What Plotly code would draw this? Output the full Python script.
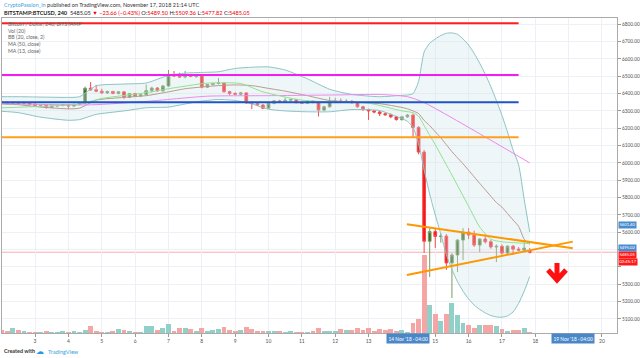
import plotly.graph_objects as go
import pandas as pd

# ---------------- data ----------------
START = pd.Timestamp('2018-11-03 00:00')      # bar index 0
BAR = pd.Timedelta(hours=4)
FIRST_BAR, LAST_BAR = -6, 89

OPEN = [6352, 6348, 6342, 6350, 6341, 6347, 6338, 6330, 6332, 6320, 6328, 6331, 6337, 6328, 6338, 6345,
        6431, 6422, 6414, 6404, 6412, 6401, 6410, 6379, 6400, 6386, 6393, 6418, 6432, 6416, 6444, 6507,
        6501, 6496, 6505, 6499, 6502, 6437, 6452, 6458, 6461, 6411, 6401, 6396, 6404, 6348, 6343, 6334,
        6316, 6344, 6358, 6350, 6362, 6366, 6347, 6344, 6356, 6350, 6305, 6324, 6353, 6357, 6350, 6356,
        6347, 6324, 6308, 6300, 6294, 6284, 6278, 6266, 6250, 6266, 6276, 6205, 6063, 5548, 5604, 5576,
        5578, 5423, 5469, 5555, 5601, 5584, 5526, 5561, 5545, 5515, 5519, 5480, 5520, 5503, 5497, 5489.50]
HIGH = [6358, 6356, 6355, 6354, 6352, 6350, 6345, 6336, 6336, 6332, 6334, 6340, 6340, 6342, 6350, 6440,
        6467, 6450, 6428, 6418, 6416, 6415, 6414, 6404, 6405, 6396, 6452, 6440, 6438, 6450, 6536, 6530,
        6520, 6530, 6512, 6508, 6506, 6456, 6462, 6490, 6466, 6416, 6408, 6410, 6408, 6355, 6347, 6340,
        6348, 6362, 6364, 6376, 6370, 6368, 6355, 6360, 6360, 6354, 6330, 6382, 6376, 6372, 6368, 6362,
        6352, 6330, 6314, 6306, 6300, 6292, 6286, 6272, 6270, 6282, 6285, 6212, 6075, 5624, 5624, 5595,
        5590, 5480, 5560, 5624, 5624, 5610, 5566, 5590, 5556, 5530, 5530, 5525, 5526, 5515, 5555, 5509.36]
LOW = [6344, 6338, 6340, 6336, 6337, 6330, 6325, 6324, 6312, 6316, 6322, 6326, 6310, 6324, 6332, 6340,
       6415, 6408, 6398, 6398, 6396, 6395, 6368, 6374, 6380, 6382, 6390, 6405, 6410, 6410, 6438, 6495,
       6490, 6488, 6494, 6490, 6430, 6432, 6446, 6452, 6405, 6388, 6392, 6390, 6340, 6311, 6328, 6310,
       6312, 6338, 6345, 6346, 6352, 6344, 6340, 6340, 6344, 6268, 6298, 6318, 6346, 6345, 6346, 6342,
       6318, 6300, 6248, 6286, 6270, 6272, 6258, 6244, 6244, 6260, 6150, 6050, 5481, 5342, 5510, 5540,
       5383, 5221, 5371, 5440, 5560, 5515, 5486, 5535, 5505, 5428, 5470, 5472, 5469, 5490, 5490, 5477.82]
CLOSE = [6348, 6342, 6350, 6341, 6347, 6338, 6330, 6332, 6320, 6328, 6331, 6337, 6328, 6338, 6345, 6431,
         6422, 6414, 6404, 6412, 6401, 6410, 6379, 6400, 6386, 6393, 6418, 6432, 6416, 6444, 6507, 6501,
         6496, 6505, 6499, 6502, 6437, 6452, 6458, 6461, 6411, 6401, 6396, 6404, 6348, 6343, 6334, 6316,
         6344, 6358, 6350, 6362, 6366, 6347, 6344, 6356, 6350, 6305, 6324, 6353, 6357, 6350, 6356, 6347,
         6324, 6308, 6300, 6294, 6284, 6278, 6266, 6250, 6266, 6276, 6205, 6063, 5548, 5604, 5576, 5578,
         5423, 5469, 5555, 5601, 5584, 5526, 5561, 5545, 5515, 5519, 5480, 5520, 5503, 5497, 5508.71, 5485.05]
VOLUME = [400, 200, 600, 400, 280, 160, 120, 120, 280, 120, 120, 240, 120, 200, 160, 400,
          840, 200, 160, 160, 280, 480, 320, 280, 160, 160, 800, 800, 400, 600, 1080, 200,
          600, 600, 520, 200, 600, 280, 400, 520, 720, 320, 200, 320, 720, 480, 280, 280,
          200, 280, 200, 160, 200, 120, 120, 120, 200, 600, 240, 240, 240, 480, 360, 360,
          600, 360, 600, 240, 480, 360, 480, 240, 360, 120, 1200, 1680, 9360, 3360, 2280, 1440,
          2280, 3600, 2160, 1200, 960, 600, 960, 960, 960, 840, 480, 240, 360, 360, 600, 120]

# Bollinger Bands (20, close, 2)
BB_IDX = [-6, -3, 1, 6, 8, 11, 16, 20, 24, 27, 30, 33, 36, 39, 42, 45, 49, 53, 57, 62, 66, 67, 68,
          69, 70, 71, 72, 73, 74, 75, 76, 77, 78, 79, 80, 81, 82, 83, 84, 85, 86, 87, 88, 89]
BB_UPPER = [6382, 6382, 6380, 6378, 6382, 6445, 6455, 6461, 6505, 6518, 6522, 6526, 6545, 6552, 6554,
            6536, 6485, 6425, 6395, 6382, 6390, 6392, 6400, 6470, 6640, 6690, 6715, 6735, 6748, 6750,
            6742, 6715, 6680, 6632, 6575, 6512, 6440, 6360, 6275, 6178, 6075, 5990, 5790, 5601.40]
BB_BASIS = [6340, 6336, 6322, 6312, 6316, 6362, 6378, 6388, 6410, 6428, 6438, 6446, 6450, 6446, 6430,
            6414, 6388, 6360, 6352, 6342, 6320, 6312, 6300, 6285, 6245, 6215, 6180, 6145, 6105, 6065,
            6030, 5995, 5958, 5920, 5882, 5845, 5808, 5772, 5745, 5708, 5671, 5634, 5560, 5530]
BB_LOWER = [6298, 6290, 6264, 6246, 6250, 6280, 6300, 6318, 6322, 6340, 6357, 6366, 6360, 6340, 6310,
            6300, 6295, 6295, 6308, 6302, 6255, 6240, 6205, 6110, 5960, 5820, 5700, 5590, 5470, 5385,
            5315, 5260, 5215, 5180, 5155, 5135, 5120, 5112, 5110, 5118, 5140, 5190, 5260, 5345]

MA13_IDX = [-6, 8, 12, 20, 24, 31, 37, 41, 48, 55, 60, 66, 68, 69, 70, 72, 75, 78, 80, 82, 84, 86, 89]
MA13 = [6318, 6340, 6372, 6405, 6428, 6460, 6458, 6410, 6362, 6350, 6345, 6300, 6290, 6270, 6215,
        6105, 5930, 5750, 5630, 5560, 5545, 5540, 5535]
MA50_IDX = [-6, 10, 20, 31, 42, 54, 62, 67, 70, 89]
MA50 = [6342, 6335, 6355, 6385, 6388, 6392, 6395, 6382, 6348, 6000]

# user drawings
HLINE_PRICES = [6805, 6507, 6350, 6148]
HLINE_COLORS = ['#ff1e1e', '#f01ef0', '#1f55c4', '#ff9f1c']
HLINE_END = '2018-11-17 12:00'
TRI_X = ['2018-11-14 03:36', '2018-11-19 03:00']
TRI_UPPER = [5646, 5508]
TRI_LOWER = [5353, 5546]
LAST_PRICE = 5485.05

DAY_LABELS = ['3', '4', '5', '6', '7', '8', '9', '10', '11', '12', '13', '', '15', '16', '17', '18', '', '20']
PRICE_TICKS = list(range(5100, 6801, 100))
HIDDEN_TICKS = [5400, 5500]        # covered by the price/timer boxes in the original

# ---------------- geometry ----------------
W, H = 640, 358
L, R, T, B = 2, 23, 18, 25
PW, PH = W - L - R, H - T - B


def px(xp):
    return (xp - L) / PW


def py(yp):
    return (T + PH - yp) / PH


def bt(i):
    return START + i * BAR


times = [bt(i) for i in range(FIRST_BAR, LAST_BAR + 1)]
X0 = START - pd.Timedelta(hours=23.8)
X1 = START + pd.Timedelta(hours=418.8)

UP_C, DN_C = '#3d6e21', '#ff1414'
UP_W, DN_W = '#7d9a66', '#f24a4a'
BB_LINE = '#8cc3c3'
GRID = '#edf1f6'
FONT = 'Lato'

fig = go.Figure()

# Bollinger fill
bbx = [bt(i) for i in BB_IDX]
fig.add_trace(go.Scatter(x=bbx, y=BB_UPPER, mode='lines', line=dict(color=BB_LINE, width=1, shape='spline', smoothing=0.6)))
fig.add_trace(go.Scatter(x=bbx, y=BB_LOWER, mode='lines', line=dict(color=BB_LINE, width=1, shape='spline', smoothing=0.6),
                         fill='tonexty', fillcolor='rgba(205,228,232,0.32)'))

# volume
vcol = ['rgba(246,160,160,0.95)' if c < o else 'rgba(138,206,198,0.95)' for o, c in zip(OPEN, CLOSE)]
fig.add_trace(go.Bar(x=times, y=VOLUME, marker=dict(color=vcol, line=dict(width=0)),
                     width=0.88 * 4 * 3600 * 1000, yaxis='y2'))

# indicator lines
fig.add_trace(go.Scatter(x=bbx, y=BB_BASIS, mode='lines', line=dict(color='#b89a90', width=1, shape='spline', smoothing=0.6)))
fig.add_trace(go.Scatter(x=[bt(i) for i in MA50_IDX], y=MA50, mode='lines', line=dict(color='#ee88ee', width=1, shape='spline', smoothing=0.6)))
fig.add_trace(go.Scatter(x=[bt(i) for i in MA13_IDX], y=MA13, mode='lines', line=dict(color='#8fe38f', width=1, shape='spline', smoothing=0.6)))

# candles
fig.add_trace(go.Candlestick(x=times, open=OPEN, high=HIGH, low=LOW, close=CLOSE, whiskerwidth=0,
                             increasing=dict(line=dict(color=UP_W, width=1), fillcolor=UP_C),
                             decreasing=dict(line=dict(color=DN_W, width=1), fillcolor=DN_C)))

shapes = []
# last price line
shapes.append(dict(type='line', xref='x', yref='y', x0=X0, x1=X1, y0=LAST_PRICE, y1=LAST_PRICE,
                   line=dict(color='rgba(240,120,120,0.6)', width=1), layer='below'))
for p, c in zip(HLINE_PRICES, HLINE_COLORS):
    shapes.append(dict(type='line', xref='x', yref='y', x0=X0, x1=HLINE_END, y0=p, y1=p,
                       line=dict(color=c, width=2)))
shapes.append(dict(type='line', xref='x', yref='y', x0=TRI_X[0], x1=TRI_X[1], y0=TRI_UPPER[0], y1=TRI_UPPER[1],
                   line=dict(color='#ff9800', width=2)))
shapes.append(dict(type='line', xref='x', yref='y', x0=TRI_X[0], x1=TRI_X[1], y0=TRI_LOWER[0], y1=TRI_LOWER[1],
                   line=dict(color='#ff9800', width=2)))
# red arrow (drawing)
shapes.append(dict(type='path', xref='paper', yref='paper',
                   path=f"M {px(557)},{py(263)} L {px(557)},{py(278)} M {px(548)},{py(270)} L {px(557)},{py(280)} L {px(566)},{py(270)}",
                   line=dict(color='#ff1010', width=5)))

ann = []


def text(x, y, s, size=5.5, color='#333', anchor='left', **kw):
    ann.append(dict(xref='paper', yref='paper', x=px(x), y=py(y), text=s, showarrow=False,
                    xanchor=anchor, yanchor='middle', font=dict(size=size, color=color, family=FONT), **kw))


text(2, 5, "<span style='color:#3ba3e0'>CryptoPassion_in</span> published on TradingView.com, November 17, 2018 21:14 UTC", size=5.5, color='#333')
text(2, 12, "<b>BITSTAMP:BTCUSD, 240</b>  5485.05 <span style='color:#e00'>▼ −23.66 (−0.43%)</span> "
     "O:<span style='color:#e00'>5489.50</span> H:<span style='color:#e00'>5509.36</span> "
     "L:<span style='color:#e00'>5477.82</span> C:<span style='color:#e00'>5485.05</span>", size=5.6, color='#222')
for yy, s in zip([24, 30.7, 37.3, 44, 50.7],
                 ['Bitcoin / Dollar, 240, BITSTAMP', 'Vol (20)', 'BB (20, close, 2)', 'MA (50, close)', 'MA (13, close)']):
    text(6, yy, s, size=5.2, color='#666')

text(2, 351, '<b>Created with</b>', size=5.4, color='#333')
text(34, 350.5, '☁', size=8, color='#2a9ae0')
text(46, 351, 'TradingView', size=5.6, color='#3ba3e0')

# x crosshair boxes
for cx, s in [(408, "14 Nov '18 · 04:00"), (573, "19 Nov '18 · 04:00")]:
    text(cx, 338, s, size=4.8, color='#ffffff', anchor='center', bgcolor='#4a87c8', borderpad=1.5)
# price boxes
for yy, s, bg in [(225, '5601.40', '#4a8ccf'), (247.6, '5495.02', '#4a8ccf'),
                  (254.6, '5485.05', '#ff1a1a'), (261.6, '02:45:17', '#ff1a1a')]:
    text(618, yy, s, size=4.2, color='#ffffff', bgcolor=bg, borderpad=0.4)

fig.update_layout(
    width=W, height=H, margin=dict(l=L, r=R, t=T, b=B, autoexpand=False),
    paper_bgcolor='white', plot_bgcolor='white', showlegend=False, hovermode=False,
    shapes=shapes, annotations=ann, bargap=0,
    xaxis=dict(type='date', range=[X0, X1], rangeslider=dict(visible=False),
               tickvals=[START + pd.Timedelta(days=d) for d in range(18)], ticktext=DAY_LABELS,
               showgrid=True, gridcolor=GRID, gridwidth=1, ticks='outside', ticklen=3, tickcolor='#999',
               tickfont=dict(size=5, color='#555', family=FONT), showline=True, linecolor='#aaa', mirror=True,
               zeroline=False, automargin=False),
    yaxis=dict(range=[5019, 6836], side='right', tickvals=PRICE_TICKS,
               ticktext=['' if v in HIDDEN_TICKS else f'{v:.2f}' for v in PRICE_TICKS],
               showgrid=True, gridcolor=GRID, ticks='outside', ticklen=3, tickcolor='#999',
               tickfont=dict(size=4.8, color='#555', family=FONT), showline=True, linecolor='#aaa', mirror=True,
               zeroline=False, automargin=False),
    yaxis2=dict(overlaying='y', range=[0, 37800], visible=False),
)

fig.write_html('out.html', config={'displayModeBar': False},
               post_script="document.body.style.margin='0';document.body.style.padding='0';")
